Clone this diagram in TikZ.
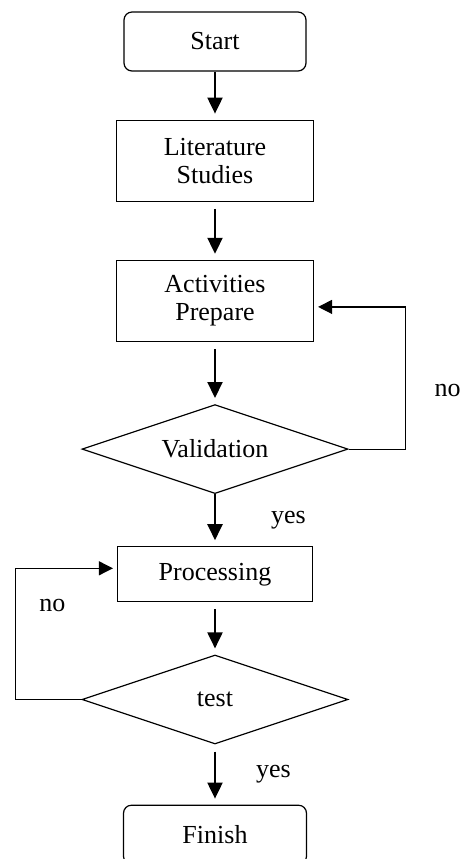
\documentclass[tikz,border=0pt]{standalone}
\usepackage{fontspec}
\setmainfont{Liberation Serif}
\usetikzlibrary{arrows.meta, positioning, shapes.geometric}

\begin{document}
\begin{tikzpicture}[
    node distance=27pt,
    font=\fontsize{13}{14}\selectfont,
    terminal/.style={
        draw,
        rounded corners=4pt,
        minimum width=91pt,
        minimum height=29.5pt,
        align=center,
        line width=0.6pt
    },
    box/.style={
        draw,
        minimum width=98.5pt,
        minimum height=40.5pt,
        align=center,
        line width=0.6pt
    },
    decision/.style={
        draw,
        diamond,
        aspect=3,
        inner sep=0pt,
        minimum width=133pt,
        minimum height=44.5pt,
        line width=0.6pt
    },
    arrow/.style={-{Triangle[length=8pt, width=7.5pt]}, line width=1pt, shorten <=3.5pt, shorten >=3pt},
    backarrow/.style={-{Triangle[length=7pt, width=7pt]}, line width=0.6pt, shorten >=2pt},
    lbl/.style={inner sep=0pt}
]
\useasboundingbox (0,0) rectangle (233pt,-429.5pt);

\node[terminal] (start) at (107.5pt,-20.75pt) {Start};
\node[box, below=24pt of start] (literature) {Literature\\Studies};
\node[box, below=29pt of literature] (prepare) {Activities\\Prepare};
\node[decision, below=31pt of prepare] (validation) {Validation};
\node[box, minimum width=97.5pt, minimum height=27.5pt, below=26pt of validation] (processing) {Processing};
\node[decision, below=26pt of processing] (test) {test};
\node[terminal, minimum width=91.5pt, below=30pt of test] (finish) {Finish};

\draw[arrow, shorten <=0pt] (start) -- (literature);
\draw[arrow] (literature) -- (prepare);
\draw[arrow] (prepare) -- (validation);
\draw[arrow, shorten <=0pt] (validation) -- (processing);
\draw[arrow] (processing) -- (test);
\draw[arrow] (test) -- (finish);

\draw[backarrow] (validation.east) -- ++(28.5pt,0) coordinate (vr) |- ([yshift=-3pt]prepare.east);
\draw[backarrow] (test.west) -- ++(-33pt,0) coordinate (tl) |- ([yshift=3pt]processing.west);

\node[lbl] (no1) at ([xshift=21pt, yshift=29.5pt]vr) {no};
\node[lbl] (yes1) at ([xshift=36.75pt, yshift=-12.75pt]validation.south) {yes};
\node[lbl] (no2) at ([xshift=18.5pt, yshift=47.25pt]tl) {no};
\node[lbl] (yes2) at ([xshift=29.25pt, yshift=-14.75pt]test.south) {yes};
\end{tikzpicture}
\end{document}
